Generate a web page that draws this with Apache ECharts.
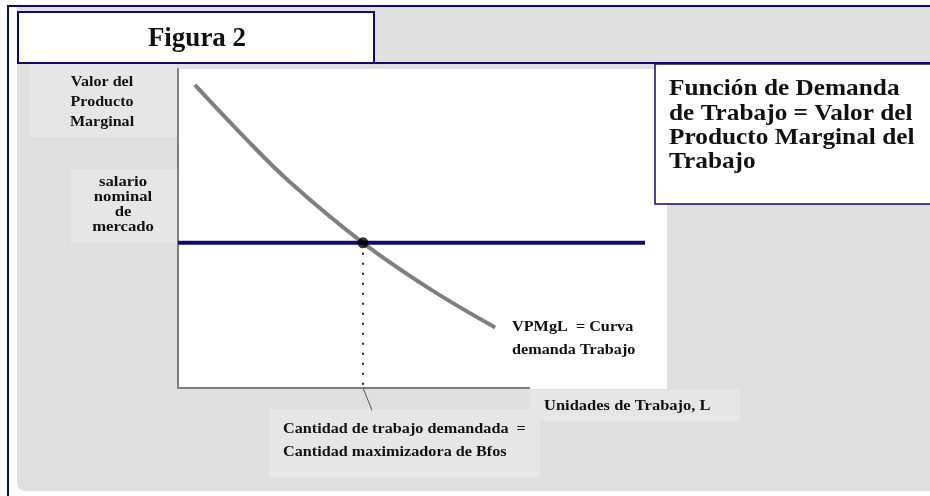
<!DOCTYPE html>
<html>
<head>
<meta charset="utf-8">
<script src="https://cdn.jsdelivr.net/npm/echarts@6/dist/echarts.min.js"></script>
<style>
  html, body { margin: 0; padding: 0; background: #fff; }
  #chart { width: 930px; height: 496px; }
</style>
</head>
<body>
<div id="chart"></div>
<script>
// curva VPMgL (demanda de trabajo)
const curveX = [4.7, 17.3, 31.2, 51.5, 70.2, 88.3]
const curveY = [95, 80, 64.5, 45.5, 31, 19]
// salario nominal de mercado
const wageLevel = 45.5
const wageStartX = 0
const wageEndX = 130
// punto de equilibrio
const eqX = 51.5
const eqY = 45.5
// eje horizontal (Unidades de Trabajo, L)
const xAxisEnd = 98
// linea guia hacia la etiqueta inferior
const leaderX = [51.5, 54]
const leaderY = [0, -7]

const navy = '#0c0c6e'
const serif = '"Liberation Serif", "DejaVu Serif", serif'

const chart = echarts.init(document.getElementById('chart'))

const rect = (x, y, w, h, fill, r) => ({
  type: 'rect',
  z: -10,
  shape: { x, y, width: w, height: h, r: r || 0 },
  style: { fill }
})

// texto en negrita, algo ensanchado como en la figura original
const text = (x, y, str, size, align, lh, sx) => ({
  type: 'text',
  z: 100,
  x, y,
  scaleX: sx || 1,
  style: {
    text: str,
    font: 'bold ' + size + 'px ' + serif,
    fill: '#111',
    align: align,
    verticalAlign: 'middle',
    lineHeight: lh || size
  }
})

const option = {
  animation: false,
  backgroundColor: '#fff',
  grid: { left: 178, top: 69, width: 467, height: 319 },
  xAxis: {
    type: 'value', min: 0, max: 130,
    axisLine: { show: false },
    axisTick: { show: false }, axisLabel: { show: false }, splitLine: { show: false }
  },
  yAxis: {
    type: 'value', min: 0, max: 100,
    axisLine: { show: true, lineStyle: { color: '#7f7f7f', width: 2 } },
    axisTick: { show: false }, axisLabel: { show: false }, splitLine: { show: false }
  },
  graphic: [
    // panel gris de fondo
    rect(17, 7, 920, 484, '#dfdfdf', [0, 0, 0, 8]),
    // bordes azules
    { type: 'line', z: 50, shape: { x1: 7, y1: 6, x2: 930, y2: 6 }, style: { stroke: navy, lineWidth: 2 } },
    { type: 'line', z: 50, shape: { x1: 8, y1: 6, x2: 8, y2: 496 }, style: { stroke: navy, lineWidth: 2 } },
    { type: 'line', z: 50, shape: { x1: 18, y1: 63, x2: 930, y2: 63 }, style: { stroke: navy, lineWidth: 2 } },
    // area blanca del grafico
    rect(177, 69, 490, 320, '#fff'),
    // cajas claras de etiquetas
    rect(29, 64, 148, 73, '#e6e6e6'),
    rect(71, 169, 106, 74, '#e6e6e6'),
    rect(530, 390, 210, 32, '#e6e6e6'),
    rect(269, 409, 271, 69, '#e6e6e6'),
    // caja titulo
    { type: 'rect', z: 60, shape: { x: 18, y: 12, width: 356, height: 51 }, style: { fill: '#fff', stroke: navy, lineWidth: 2 } },
    // caja derecha
    { type: 'rect', z: 60, shape: { x: 655, y: 64, width: 290, height: 140 }, style: { fill: '#fff', stroke: navy, lineWidth: 1.5 } },
    text(197, 39, 'Figura 2', 27, 'center'),
    text(102, 102, 'Valor del\nProducto\nMarginal', 15, 'center', 20, 1.07),
    text(123, 205, 'salario\nnominal\nde\nmercado', 14.5, 'center', 15, 1.15),
    text(669, 126, 'Función de Demanda\nde Trabajo = Valor del\nProducto Marginal del\nTrabajo', 23, 'left', 24.3, 1.1),
    text(512, 339, 'VPMgL  = Curva\ndemanda Trabajo', 15, 'left', 23, 1.08),
    text(544, 406, 'Unidades de Trabajo, L', 15, 'left', 15, 1.1),
    text(283, 441, 'Cantidad de trabajo demandada  =\nCantidad maximizadora de Bfos', 15, 'left', 23, 1.08)
  ],
  series: [
    {
      name: 'eje L',
      type: 'line',
      symbol: 'none',
      data: [[0, 0], [xAxisEnd, 0]],
      lineStyle: { color: '#7f7f7f', width: 2 },
      z: 2
    },
    {
      name: 'VPMgL',
      type: 'line',
      smooth: 0.4,
      symbol: 'none',
      data: curveX.map((x, i) => [x, curveY[i]]),
      lineStyle: { color: '#7f7f7f', width: 4 },
      z: 3
    },
    {
      name: 'salario',
      type: 'line',
      symbol: 'none',
      data: [[wageStartX, wageLevel], [wageEndX, wageLevel]],
      lineStyle: { color: navy, width: 4 },
      z: 4
    },
    {
      name: 'cantidad',
      type: 'line',
      symbol: 'none',
      data: [[eqX, eqY], [eqX, 0]],
      lineStyle: { color: '#222', width: 2, type: [2, 8] },
      z: 3
    },
    {
      name: 'guia',
      type: 'line',
      symbol: 'none',
      clip: false,
      data: leaderX.map((x, i) => [x, leaderY[i]]),
      lineStyle: { color: '#555', width: 1 },
      z: 3
    },
    {
      name: 'equilibrio',
      type: 'scatter',
      symbolSize: 11,
      data: [[eqX, eqY]],
      itemStyle: { color: '#000' },
      z: 5
    }
  ]
}

chart.setOption(option)
</script>
</body>
</html>
